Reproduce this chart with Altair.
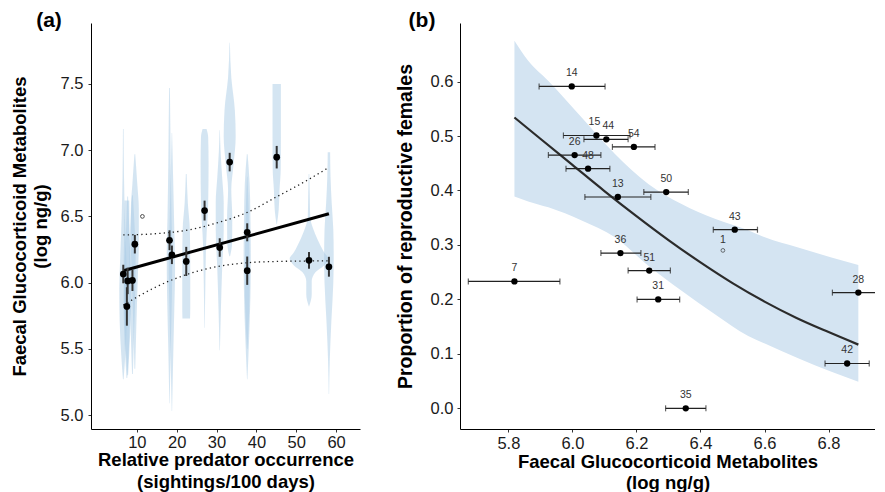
import altair as alt
import pandas as pd

FONT = "Liberation Sans, Arial, Helvetica, sans-serif"

# ---------------- Panel (a) data ----------------
a_pred = [6.6, 7.5, 7.7, 8.9, 9.5, 18.2, 18.8, 22.4, 27.0, 30.8, 33.3, 37.7, 37.7, 45.1, 53.2, 58.2]
a_fgm = [6.065, 5.82, 6.013, 6.017, 6.29, 6.32, 6.21, 6.16, 6.544, 6.265, 6.91, 6.38, 6.09, 6.947, 6.168, 6.12]
a_se = [0.07, 0.145, 0.10, 0.08, 0.07, 0.075, 0.07, 0.11, 0.075, 0.07, 0.07, 0.068, 0.107, 0.085, 0.063, 0.075]

a_out_x = [11.4]
a_out_y = [6.5]

fit_x = [6.6, 58.2]
fit_y = [6.09, 6.52]

ci_x = [6.6, 15.0, 23.4, 30.0, 37.7, 45.2, 52.0, 58.2]
ci_hi = [6.36, 6.37, 6.40, 6.45, 6.53, 6.65, 6.76, 6.87]
ci_lo = [5.83, 5.97, 6.07, 6.12, 6.15, 6.16, 6.163, 6.165]

# violins: centre (predator occurrence), log FGM levels, half-widths (x units)
vio_center = [6.6, 7.5, 7.7, 8.9, 9.5, 18.2, 18.8, 22.4, 27.0, 30.8, 33.3, 37.7, 37.7, 45.1, 53.2, 58.2]
vio_y = [
    [5.27, 5.45, 5.7, 5.95, 6.2, 6.5, 6.8, 7.16],
    [5.28, 5.5, 5.8, 6.1, 6.4, 6.62],
    [5.3, 5.6, 5.9, 6.1, 6.4, 6.65],
    [5.31, 5.6, 5.9, 6.2, 6.45, 6.66],
    [5.35, 5.7, 6.0, 6.3, 6.55, 6.75, 6.97],
    [5.09, 5.5, 5.9, 6.2, 6.5, 6.9, 7.2, 7.47],
    [5.03, 5.4, 5.8, 6.1, 6.4, 6.8, 7.13],
    [5.73, 5.8, 6.1, 6.4, 6.6, 6.82],
    [5.66, 6.0, 6.3, 6.6, 6.9, 7.1, 7.16],
    [5.49, 5.8, 6.1, 6.4, 6.6, 6.8, 7.0, 7.15],
    [6.2, 6.3, 6.5, 6.7, 6.9, 7.1, 7.3, 7.55, 7.81],
    [5.27, 5.6, 5.9, 6.2, 6.5, 6.75, 6.97],
    [5.5, 5.8, 6.0, 6.3, 6.6, 6.8],
    [6.44, 6.55, 6.7, 6.85, 7.1, 7.3, 7.5],
    [5.82, 5.91, 6.01, 6.08, 6.13, 6.18, 6.23, 6.33, 6.41, 6.5, 6.65, 6.82],
    [5.16, 5.4, 5.7, 6.0, 6.2, 6.4, 6.6, 6.8, 6.985],
]
vio_hw = [
    [0.08, 0.5, 0.9, 1.0, 0.75, 0.4, 0.18, 0.08],
    [0.1, 0.5, 0.8, 0.8, 0.65, 0.6],
    [0.1, 0.6, 0.9, 0.8, 0.4, 0.1],
    [0.1, 0.4, 0.7, 0.8, 0.5, 0.1],
    [0.1, 0.4, 0.7, 1.0, 1.0, 0.6, 0.1],
    [0.05, 0.3, 0.6, 0.7, 0.5, 0.3, 0.2, 0.1],
    [0.05, 0.3, 0.6, 0.8, 0.6, 0.3, 0.05],
    [0.95, 1.0, 1.0, 0.9, 0.4, 0.1],
    [0.05, 0.2, 0.4, 0.9, 1.0, 0.9, 0.5],
    [0.05, 0.3, 0.6, 1.0, 1.0, 0.6, 0.2, 0.05],
    [0.1, 0.6, 0.65, 0.4, 1.0, 1.5, 1.3, 0.4, 0.05],
    [0.05, 0.5, 0.8, 0.9, 0.8, 0.6, 0.1],
    [0.05, 0.5, 0.6, 0.5, 0.3, 0.05],
    [0.05, 0.5, 0.7, 1.0, 1.05, 1.05, 1.05],
    [0.02, 0.68, 0.68, 1.68, 3.77, 4.85, 3.77, 2.09, 1.0, 0.3, 0.2, 0.08],
    [0.05, 0.2, 0.6, 1.1, 1.2, 1.1, 0.7, 0.4, 0.3],
]

# ---------------- Panel (b) data ----------------
b_id = ["14", "15", "44", "54", "26", "48", "13", "50", "43", "36", "7", "51", "31", "35", "28", "42"]
b_fgm = [5.998, 6.075, 6.106, 6.192, 6.007, 6.049, 6.142, 6.293, 6.507, 6.150, 5.819, 6.240, 6.268, 6.354, 6.893, 6.858]
b_prop = [0.591, 0.501, 0.494, 0.480, 0.465, 0.440, 0.388, 0.397, 0.328, 0.285, 0.233, 0.253, 0.200, 0.0, 0.2125, 0.0824]
b_lo = [5.896, 5.972, 6.036, 6.125, 5.925, 5.98, 6.039, 6.223, 6.44, 6.089, 5.675, 6.174, 6.202, 6.291, 6.812, 6.789]
b_hi = [6.102, 6.180, 6.174, 6.258, 6.089, 6.117, 6.245, 6.362, 6.578, 6.214, 5.961, 6.306, 6.335, 6.417, 6.974, 6.927]

b_out_id = ["1"]
b_out_x = [6.47]
b_out_y = [0.29]

curve_x = [5.819, 5.9, 6.0, 6.1, 6.2, 6.3, 6.4, 6.5, 6.6, 6.7, 6.8, 6.893]
curve_y = [0.534, 0.495, 0.447, 0.399, 0.353, 0.309, 0.268, 0.230, 0.196, 0.166, 0.140, 0.117]

band_x = [5.819, 5.862, 5.925, 6.029, 6.133, 6.237, 6.341, 6.445, 6.549, 6.601, 6.705, 6.809, 6.893]
band_hi = [0.675, 0.638, 0.601, 0.534, 0.467, 0.412, 0.375, 0.348, 0.327, 0.314, 0.2954, 0.277, 0.263]
band_lo = [0.389, 0.380, 0.369, 0.345, 0.314, 0.262, 0.216, 0.173, 0.133, 0.119, 0.092, 0.067, 0.049]

a_xticks = [10, 20, 30, 40, 50, 60]
a_yticks = [5.0, 5.5, 6.0, 6.5, 7.0, 7.5]
b_xticks = [5.8, 6.0, 6.2, 6.4, 6.6, 6.8]
b_yticks = [0.0, 0.1, 0.2, 0.3, 0.4, 0.5, 0.6]

# ---------------- data frames ----------------
df_a = pd.DataFrame({"x": a_pred, "y": a_fgm, "se": a_se})
df_a["lo"] = df_a["y"] - df_a["se"]
df_a["hi"] = df_a["y"] + df_a["se"]
df_a_out = pd.DataFrame({"x": a_out_x, "y": a_out_y})
df_fit = pd.DataFrame({"x": fit_x, "y": fit_y})
df_ci = pd.concat([
    pd.DataFrame({"x": ci_x, "y": ci_hi, "bound": "upper"}),
    pd.DataFrame({"x": ci_x, "y": ci_lo, "bound": "lower"}),
])
rows = []
for i, (c, ys, hws) in enumerate(zip(vio_center, vio_y, vio_hw)):
    for yv, hw in zip(ys, hws):
        rows.append({"vid": i, "y": yv, "xl": c - hw, "xr": c + hw})
df_vio = pd.DataFrame(rows)

df_b = pd.DataFrame({"id": b_id, "x": b_fgm, "y": b_prop, "lo": b_lo, "hi": b_hi})
df_b_out = pd.DataFrame({"id": b_out_id, "x": b_out_x, "y": b_out_y})
df_curve = pd.DataFrame({"x": curve_x, "y": curve_y})
df_band = pd.DataFrame({"x": band_x, "lo": band_lo, "hi": band_hi})

# ---------------- scales / axes ----------------
sx_a = alt.Scale(domain=[-1.5, 66], nice=False, zero=False)
sy_a = alt.Scale(domain=[4.895, 7.96], nice=False, zero=False)
ax_xa = alt.Axis(values=a_xticks, title=["Relative predator occurrence", "(sightings/100 days)"],
                 labelPadding=2, titlePadding=0, titleLineHeight=22)
ax_ya = alt.Axis(values=a_yticks, format=".1f",
                 title=["Faecal Glucocorticoid Metabolites", "(log ng/g)"],
                 labelPadding=5, titlePadding=10, titleLineHeight=21)

sx_b = alt.Scale(domain=[5.649, 6.945], nice=False, zero=False)
sy_b = alt.Scale(domain=[-0.0379, 0.7075], nice=False, zero=False)
ax_xb = alt.Axis(values=b_xticks, format=".1f",
                 title=["Faecal Glucocorticoid Metabolites", "(log ng/g)"],
                 labelPadding=3, titlePadding=1, titleLineHeight=21)
ax_yb = alt.Axis(values=b_yticks, format=".1f", title="Proportion of reproductive females",
                 labelPadding=4, titlePadding=15, titleFontSize=19.5)


def XA(f):
    return alt.X(f, type="quantitative", scale=sx_a, axis=ax_xa, stack=None)


def YA(f):
    return alt.Y(f, type="quantitative", scale=sy_a, axis=ax_ya, stack=None)


def XB(f):
    return alt.X(f, type="quantitative", scale=sx_b, axis=ax_xb, stack=None)


def YB(f):
    return alt.Y(f, type="quantitative", scale=sy_b, axis=ax_yb, stack=None)


# ---------------- panel (a) ----------------
violins = alt.Chart(df_vio).mark_area(
    orient="horizontal", interpolate="monotone", fill="#a9cce6", opacity=0.5, clip=True
).encode(y=YA("y"), x=XA("xl"), x2="xr", detail="vid:N")

ci_lines = alt.Chart(df_ci).mark_line(
    color="#222222", strokeWidth=1.3, strokeDash=[1.3, 3.2], interpolate="monotone", clip=True
).encode(x=XA("x"), y=YA("y"), detail="bound:N")

fit_line = alt.Chart(df_fit).mark_line(color="black", strokeWidth=3, clip=True).encode(
    x=XA("x"), y=YA("y"))

err_a = alt.Chart(df_a).mark_rule(color="#333333", strokeWidth=2).encode(
    x=XA("x"), y=YA("lo"), y2="hi")

pts_a = alt.Chart(df_a).mark_circle(color="black", size=45, opacity=1).encode(
    x=XA("x"), y=YA("y"))

out_a = alt.Chart(df_a_out).mark_point(shape="circle", filled=False, color="black",
                                       size=14, strokeWidth=1).encode(x=XA("x"), y=YA("y"))

tag_a = alt.Chart(pd.DataFrame({"t": ["(a)"]})).mark_text(
    font=FONT, fontSize=21, fontWeight="bold", color="black", align="center", baseline="middle"
).encode(x=alt.value(-42), y=alt.value(-2), text="t:N")

panel_a = alt.layer(violins, ci_lines, fit_line, err_a, pts_a, out_a, tag_a).properties(
    width=269, height=406)

# ---------------- panel (b) ----------------
band = alt.Chart(df_band).mark_area(color="#d4e4f2", opacity=1, interpolate="monotone").encode(
    x=XB("x"), y=YB("lo"), y2="hi")

curve = alt.Chart(df_curve).mark_line(color="#2b2b2b", strokeWidth=2.2, interpolate="monotone").encode(
    x=XB("x"), y=YB("y"))

err_b = alt.Chart(df_b).mark_rule(color="#222222", strokeWidth=1.2, clip=True).encode(
    x=XB("lo"), x2="hi", y=YB("y"))

cap_lo = alt.Chart(df_b).mark_tick(color="#222222", orient="vertical", size=6, thickness=1.2, clip=True).encode(
    x=XB("lo"), y=YB("y"))
cap_hi = alt.Chart(df_b).mark_tick(color="#222222", orient="vertical", size=6, thickness=1.2, clip=True).encode(
    x=XB("hi"), y=YB("y"))

pts_b = alt.Chart(df_b).mark_circle(color="black", size=40, opacity=1).encode(
    x=XB("x"), y=YB("y"))

lab_main = alt.Chart(df_b).transform_filter(
    (alt.datum.id != "15") & (alt.datum.id != "44")
).mark_text(font=FONT, fontSize=10.5, color="#333333", dy=-8, baseline="bottom").encode(
    x=XB("x"), y=YB("y"), text="id:N")
lab_15 = alt.Chart(df_b).transform_filter(alt.datum.id == "15").mark_text(
    font=FONT, fontSize=10.5, color="#333333", dy=-8, dx=-2, baseline="bottom").encode(
    x=XB("x"), y=YB("y"), text="id:N")
lab_44 = alt.Chart(df_b).transform_filter(alt.datum.id == "44").mark_text(
    font=FONT, fontSize=10.5, color="#333333", dy=-8, dx=2, baseline="bottom").encode(
    x=XB("x"), y=YB("y"), text="id:N")

out_b = alt.Chart(df_b_out).mark_point(shape="circle", filled=False, color="#333333",
                                       size=14, strokeWidth=1).encode(x=XB("x"), y=YB("y"))
out_lab = alt.Chart(df_b_out).mark_text(font=FONT, fontSize=10.5, color="#333333", dy=-5, baseline="bottom").encode(
    x=XB("x"), y=YB("y"), text="id:N")

tag_b = alt.Chart(pd.DataFrame({"t": ["(b)"]})).mark_text(
    font=FONT, fontSize=21, fontWeight="bold", color="black", align="center", baseline="middle"
).encode(x=alt.value(-38), y=alt.value(-2), text="t:N")

panel_b = alt.layer(band, curve, err_b, cap_lo, cap_hi, pts_b, lab_main, lab_15, lab_44,
                    out_b, out_lab, tag_b).properties(width=415, height=406)

chart = alt.hconcat(panel_a, panel_b, spacing=35).properties(
    padding={"left": 2, "top": 2, "right": 0, "bottom": 0}
).configure_view(stroke=None).configure_axis(
    grid=False,
    domainColor="black",
    domainWidth=1,
    tickColor="#333333",
    tickSize=3,
    tickWidth=1,
    labelFont=FONT,
    labelFontSize=16.5,
    labelColor="#1a1a1a",
    titleFont=FONT,
    titleFontSize=18.5,
    titleFontWeight="bold",
    titleColor="black",
)

chart.save("out.html", embed_options={"renderer": "svg", "actions": False})
